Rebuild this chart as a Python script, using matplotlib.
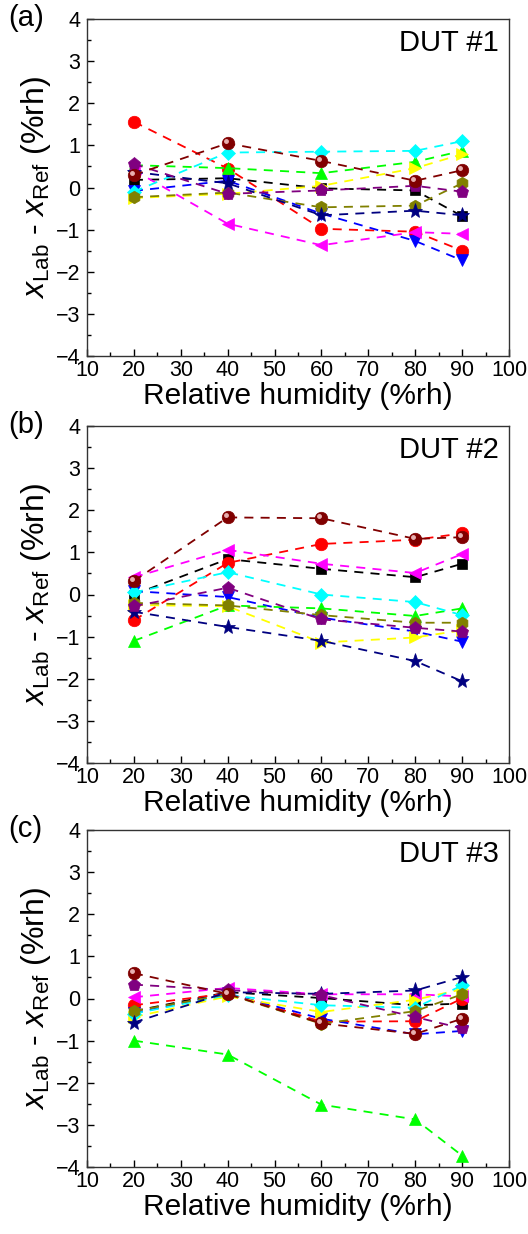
import matplotlib
matplotlib.use("Agg")
import matplotlib.pyplot as plt
from matplotlib.ticker import MultipleLocator
from matplotlib.transforms import ScaledTranslation

plt.rcParams['font.family'] = ['Liberation Sans', 'DejaVu Sans']
plt.rcParams['mathtext.fontset'] = 'custom'
plt.rcParams['mathtext.rm'] = 'Liberation Sans'
plt.rcParams['mathtext.it'] = 'Liberation Sans:italic'

rh = [20, 40, 60, 80, 90]

series_names = ['black', 'red', 'blue', 'green', 'magenta', 'yellow',
                'cyan', 'olive', 'navy', 'purple', 'wine']

# DUT #1
dut1 = {
    'black':   [0.18, 0.22, -0.02, -0.07, -0.68],
    'red':     [1.56, 0.45, -0.98, -1.05, -1.50],
    'blue':    [-0.08, 0.16, -0.62, -1.27, -1.73],
    'green':   [0.53, 0.46, 0.34, 0.61, 0.87],
    'magenta': [0.41, -0.86, -1.37, -1.06, -1.10],
    'yellow':  [-0.25, -0.15, 0.04, 0.46, 0.79],
    'cyan':    [-0.10, 0.83, 0.85, 0.87, 1.10],
    'olive':   [-0.23, -0.12, -0.47, -0.43, 0.10],
    'navy':    [0.37, 0.10, -0.66, -0.55, -0.66],
    'purple':  [0.56, -0.15, -0.07, 0.04, -0.10],
    'wine':    [0.30, 1.05, 0.63, 0.16, 0.41],
}
# DUT #2
dut2 = {
    'black':   [0.00, 0.84, 0.61, 0.41, 0.73],
    'red':     [-0.61, 0.75, 1.20, 1.30, 1.45],
    'blue':    [0.08, -0.06, -0.55, -0.88, -1.12],
    'green':   [-1.10, -0.26, -0.33, -0.51, -0.33],
    'magenta': [0.41, 1.06, 0.73, 0.51, 0.96],
    'yellow':  [-0.25, -0.28, -1.14, -1.02, -0.85],
    'cyan':    [0.05, 0.53, 0.00, -0.18, -0.49],
    'olive':   [-0.20, -0.26, -0.49, -0.67, -0.67],
    'navy':    [-0.41, -0.77, -1.10, -1.58, -2.06],
    'purple':  [-0.28, 0.16, -0.59, -0.79, -0.88],
    'wine':    [0.32, 1.83, 1.81, 1.32, 1.36],
}
# DUT #3
dut3 = {
    'black':   [-0.30, 0.15, 0.01, -0.16, -0.12],
    'red':     [-0.16, 0.12, -0.55, -0.54, 0.00],
    'blue':    [-0.35, 0.12, -0.48, -0.85, -0.77],
    'green':   [-1.00, -1.33, -2.52, -2.87, -3.73],
    'magenta': [0.03, 0.25, 0.10, 0.10, 0.05],
    'yellow':  [-0.44, 0.05, -0.32, -0.03, 0.22],
    'cyan':    [-0.36, 0.08, -0.16, -0.22, 0.31],
    'olive':   [-0.30, 0.10, -0.60, -0.30, 0.10],
    'navy':    [-0.57, 0.15, 0.11, 0.19, 0.51],
    'purple':  [0.33, 0.20, 0.08, -0.44, -0.71],
    'wine':    [0.60, 0.11, -0.59, -0.84, -0.48],
}

panels = [dut1, dut2, dut3]
panel_letters = ['(a)', '(b)', '(c)']
panel_titles = ['DUT #1', 'DUT #2', 'DUT #3']
x_ticks = [10, 20, 30, 40, 50, 60, 70, 80, 90, 100]
y_ticks = [-4, -3, -2, -1, 0, 1, 2, 3, 4]

styles = {
    'black':   ('#000000', 's', 7.5),
    'red':     ('#ff0000', 'o', 9),
    'blue':    ('#0000ff', 'v', 9),
    'green':   ('#00ff00', '^', 9),
    'magenta': ('#ff00ff', '<', 9),
    'yellow':  ('#ffff00', '>', 9),
    'cyan':    ('#00ffff', 'D', 7.5),
    'olive':   ('#808000', 'h', 9),
    'navy':    ('#000080', '*', 11),
    'purple':  ('#800080', 'p', 9.5),
    'wine':    ('#800000', 'o', 9),
}

W, H = 528, 1234
fig = plt.figure(figsize=(W / 100, H / 100), dpi=100)

left_px, right_px = 87, 509
tops = [19, 426, 830]
ax_h = 337

for i, data in enumerate(panels):
    top = tops[i]
    ax = fig.add_axes([left_px / W, 1 - (top + ax_h) / H,
                       (right_px - left_px) / W, ax_h / H])
    for name in series_names:
        c, m, ms = styles[name]
        ax.plot(rh, data[name], linestyle=(0, (5, 4)), color=c, lw=1.3,
                marker=m, markersize=ms, markerfacecolor=c,
                markeredgecolor=c, markeredgewidth=0.5)
    # sphere highlight on the wine markers
    hl = ax.transData + ScaledTranslation(-1.5 / 72, 1.5 / 72, fig.dpi_scale_trans)
    ax.plot(rh, data['wine'], linestyle='none', marker='o', markersize=2.5,
            color='#e8b0b0', transform=hl)
    ax.set_xlim(10, 100)
    ax.set_ylim(-4, 4)
    ax.set_xticks(x_ticks)
    ax.set_yticks(y_ticks)
    ax.xaxis.set_minor_locator(MultipleLocator(5))
    ax.yaxis.set_minor_locator(MultipleLocator(0.5))
    ax.tick_params(which='both', direction='in', top=False, right=False,
                   labelsize=15.5, width=1.0)
    ax.tick_params(which='major', length=5, pad=5)
    ax.tick_params(axis='x', which='major', pad=3)
    ax.tick_params(which='minor', length=3)
    for sp in ax.spines.values():
        sp.set_linewidth(1.0)
        sp.set_color('#333333')
    ax.set_xlabel('Relative humidity (%rh)', fontsize=21.5, labelpad=0.5)
    ax.set_ylabel(r'$\mathit{x}_{\mathrm{Lab}}$ - $\mathit{x}_{\mathrm{Ref}}$ (%rh)',
                  fontsize=23, labelpad=2)
    ax.text(0.975, 0.97, panel_titles[i], transform=ax.transAxes,
            ha='right', va='top', fontsize=21)
    fig.text(8 / W, 1 - (top - 1) / H, panel_letters[i], ha='left',
             va='center', fontsize=21)

fig.savefig('out.png', dpi=100)
